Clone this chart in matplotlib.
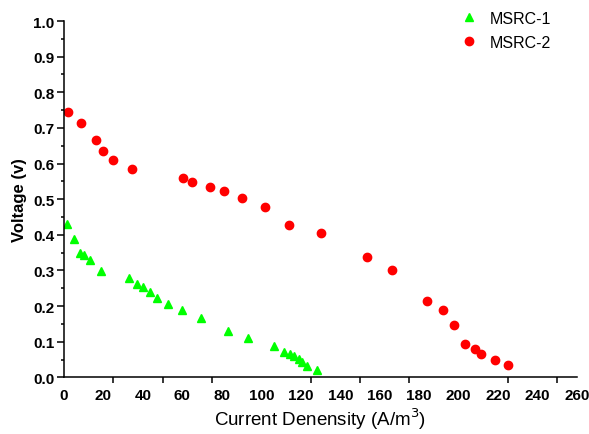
import numpy as np
from matplotlib import pyplot as plt
from matplotlib.ticker import MultipleLocator

# MSRC-1 (green triangles)
x1 = [1.4, 5.1, 8.3, 10.0, 13.2, 18.9, 32.8, 36.9, 39.9, 43.5, 47.2, 52.8, 59.7,
      69.5, 82.9, 93.2, 106.3, 111.7, 114.7, 116.4, 118.9, 120.7, 123.2, 128.3]
y1 = [0.431, 0.387, 0.348, 0.342, 0.330, 0.297, 0.279, 0.261, 0.253, 0.240, 0.224,
      0.207, 0.189, 0.166, 0.131, 0.111, 0.087, 0.072, 0.066, 0.060, 0.051, 0.042,
      0.031, 0.021]

# MSRC-2 (red circles)
x2 = [1.9, 8.6, 16.1, 19.5, 24.7, 34.3, 60.1, 65.1, 74.1, 81.1, 90.2, 102.0, 114.2,
      130.1, 153.3, 166.2, 184.1, 192.0, 197.8, 203.0, 208.1, 211.3, 218.4, 225.2]
y2 = [0.746, 0.713, 0.666, 0.635, 0.611, 0.584, 0.559, 0.548, 0.533, 0.522, 0.502,
      0.478, 0.427, 0.404, 0.337, 0.300, 0.214, 0.189, 0.148, 0.094, 0.080, 0.065,
      0.050, 0.035]

xlabels = np.arange(0, 261, 20)
ylabels = np.arange(0, 1.01, 0.1)

plt.rcParams['font.family'] = ['Liberation Sans', 'DejaVu Sans']

fig = plt.figure(figsize=(5.89, 4.35), dpi=100)
ax = fig.add_axes([0.1087, 0.1303, 0.871, 0.8191])

ax.plot(x1, y1, linestyle='none', marker='^', markersize=6.3, color='#00ff00',
        label='MSRC-1')
ax.plot(x2, y2, linestyle='none', marker='o', markersize=6.0, color='#ff0000',
        label='MSRC-2')

ax.set_xlim(0, 260)
ax.set_ylim(0, 1.0)

# labels every 20, tick marks every 25 (as in the original)
ax.set_xticks(xlabels)
ax.set_xticklabels([str(v) for v in xlabels], fontweight='bold', fontsize=11)
ax.xaxis.set_minor_locator(MultipleLocator(25))
ax.tick_params(axis='x', which='major', length=0, pad=8)
ax.tick_params(axis='x', which='minor', length=4, width=1.1, direction='out')

ax.set_yticks(ylabels)
ax.set_yticklabels(['%.1f' % v for v in ylabels], fontweight='bold', fontsize=11)
ax.yaxis.set_minor_locator(MultipleLocator(0.05))
ax.tick_params(axis='y', which='major', length=5, width=1.1, pad=2)
ax.tick_params(axis='y', which='minor', length=2.5, width=1.1)

for s in ['top', 'right']:
    ax.spines[s].set_visible(False)
for s in ['left', 'bottom']:
    ax.spines[s].set_linewidth(1.1)
    ax.spines[s].set_clip_on(False)

ax.set_xlabel('Current Denensity (A/m$^3$)', fontsize=13.5, labelpad=2)
ax.set_ylabel('Voltage (v)', fontsize=12, fontweight='bold', labelpad=4)

ax.legend(loc='upper left', bbox_to_anchor=(0.73, 1.069), frameon=False,
          fontsize=11.5, handletextpad=0.3, labelspacing=0.55, markerscale=1.0)

plt.savefig('out.png', dpi=100)
